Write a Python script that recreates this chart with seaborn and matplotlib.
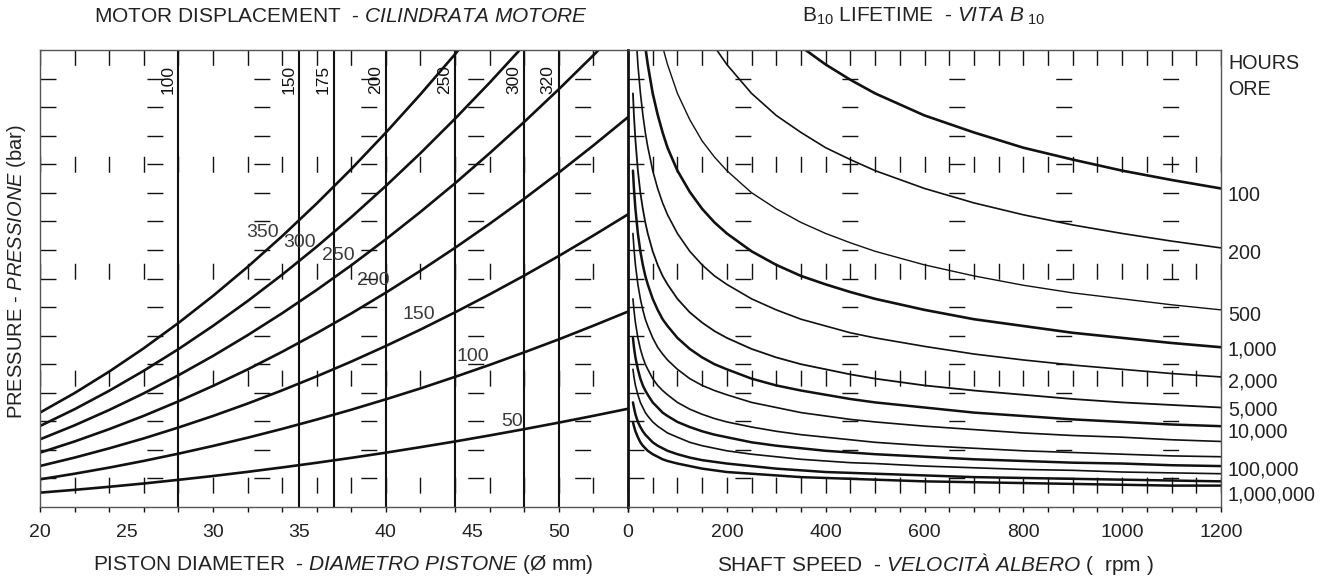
import numpy as np
import matplotlib
matplotlib.use("Agg")
import matplotlib.pyplot as plt
import seaborn as sns
from matplotlib.ticker import MultipleLocator

# ---------------- data ----------------
# Left panel: load vs piston diameter for each pressure level
piston_diameter_mm = [20, 22, 24, 26, 28, 30, 32, 34, 36, 38, 40, 42, 44, 46, 48, 50, 52, 54]
pressure_levels_bar = [50, 100, 150, 200, 250, 300, 350]
load_50bar = [1.57, 1.90, 2.26, 2.65, 3.08, 3.53, 4.02, 4.54, 5.09, 5.67, 6.28, 6.93, 7.60, 8.31, 9.05, 9.82, 10.62, 11.45]
load_100bar = [3.14, 3.80, 4.52, 5.31, 6.16, 7.07, 8.04, 9.08, 10.18, 11.34, 12.57, 13.85, 15.21, 16.62, 18.10, 19.63, 21.24, 22.90]
load_150bar = [4.71, 5.70, 6.79, 7.96, 9.24, 10.60, 12.06, 13.62, 15.27, 17.01, 18.85, 20.78, 22.81, 24.93, 27.14, 29.45, 31.86, 34.35]
load_200bar = [6.28, 7.60, 9.05, 10.62, 12.32, 14.14, 16.08, 18.16, 20.36, 22.68, 25.13, 27.71, 30.41, 33.24, 36.19, 39.27, 42.47, 45.80]
load_250bar = [7.85, 9.50, 11.31, 13.27, 15.39, 17.67, 20.11, 22.70, 25.45, 28.35, 31.42, 34.64, 38.01, 41.55, 45.24, 49.09, 53.09, 57.26]
load_300bar = [9.42, 11.40, 13.57, 15.93, 18.47, 21.21, 24.13, 27.24, 30.54, 34.02, 37.70, 41.56, 45.62, 49.86, 54.29, 58.91, 63.71, 68.71]
load_350bar = [11.00, 13.30, 15.83, 18.58, 21.55, 24.74, 28.15, 31.78, 35.63, 39.69, 43.98, 48.49, 53.22, 58.17, 63.33, 68.72, 74.33, 80.16]

# Motor displacement lines
displacement_cc = [100, 150, 175, 200, 250, 300, 320]
displacement_diameter_mm = [28, 35, 37, 40, 44, 48, 50]

# Right panel: B10 life curves, load vs shaft speed
shaft_speed_rpm = [10, 12, 15, 20, 25, 30, 35, 40, 50, 60, 70, 80, 100, 125, 150, 175,
                   200, 250, 300, 350, 400, 450, 500, 600, 700, 800, 900, 1000, 1100, 1200]
life_hours = [100, 200, 500, 1000, 2000, 5000, 10000, 20000, 50000,
              100000, 200000, 500000, 1000000]
load_100h = [157.2, 148.9, 139.2, 127.7, 119.4, 113.1, 108.0, 103.7, 97.0, 91.8, 87.7, 84.3, 78.8, 73.7, 69.8, 66.6,
             64.0, 59.9, 56.7, 54.1, 52.0, 50.2, 48.6, 46.0, 44.0, 42.2, 40.8, 39.5, 38.4, 37.4]
load_200h = [127.7, 120.9, 113.1, 103.7, 97.0, 91.8, 87.7, 84.3, 78.8, 74.6, 71.2, 68.4, 64.0, 59.9, 56.7, 54.1,
             52.0, 48.6, 46.0, 44.0, 42.2, 40.8, 39.5, 37.4, 35.7, 34.3, 33.1, 32.1, 31.2, 30.4]
load_500h = [97.0, 91.8, 85.9, 78.8, 73.7, 69.7, 66.6, 64.0, 59.8, 56.7, 54.1, 52.0, 48.6, 45.5, 43.0, 41.1,
             39.5, 36.9, 35.0, 33.4, 32.1, 31.0, 30.0, 28.4, 27.1, 26.0, 25.1, 24.4, 23.7, 23.1]
load_1000h = [78.8, 74.6, 69.8, 64.0, 59.9, 56.7, 54.1, 52.0, 48.6, 46.1, 44.0, 42.2, 39.5, 37.0, 35.0, 33.4,
              32.1, 30.0, 28.4, 27.1, 26.1, 25.2, 24.4, 23.1, 22.0, 21.2, 20.4, 19.8, 19.2, 18.7]
load_2000h = [64.1, 60.6, 56.7, 52.0, 48.7, 46.1, 44.0, 42.3, 39.5, 37.4, 35.7, 34.3, 32.1, 30.0, 28.4, 27.1,
              26.1, 24.4, 23.1, 22.0, 21.2, 20.4, 19.8, 18.8, 17.9, 17.2, 16.6, 16.1, 15.6, 15.2]
load_5000h = [48.6, 46.0, 43.1, 39.5, 36.9, 35.0, 33.4, 32.1, 30.0, 28.4, 27.1, 26.1, 24.4, 22.8, 21.6, 20.6,
              19.8, 18.5, 17.5, 16.7, 16.1, 15.5, 15.0, 14.2, 13.6, 13.1, 12.6, 12.2, 11.9, 11.6]
load_10000h = [39.5, 37.4, 35.0, 32.1, 30.0, 28.4, 27.1, 26.1, 24.4, 23.1, 22.0, 21.2, 19.8, 18.5, 17.5, 16.7,
               16.1, 15.0, 14.2, 13.6, 13.1, 12.6, 12.2, 11.6, 11.0, 10.6, 10.2, 9.9, 9.6, 9.4]
load_20000h = [32.1, 30.4, 28.4, 26.1, 24.4, 23.1, 22.0, 21.2, 19.8, 18.7, 17.9, 17.2, 16.1, 15.0, 14.2, 13.6,
               13.1, 12.2, 11.6, 11.0, 10.6, 10.2, 9.9, 9.4, 9.0, 8.6, 8.3, 8.1, 7.8, 7.6]
load_50000h = [24.4, 23.1, 21.6, 19.8, 18.5, 17.5, 16.7, 16.1, 15.0, 14.2, 13.6, 13.1, 12.2, 11.4, 10.8, 10.3,
               9.9, 9.3, 8.8, 8.4, 8.1, 7.8, 7.5, 7.1, 6.8, 6.5, 6.3, 6.1, 5.9, 5.8]
load_100000h = [19.8, 18.7, 17.5, 16.1, 15.0, 14.2, 13.6, 13.1, 12.2, 11.6, 11.0, 10.6, 9.9, 9.3, 8.8, 8.4,
                8.1, 7.5, 7.1, 6.8, 6.5, 6.3, 6.1, 5.8, 5.5, 5.3, 5.1, 5.0, 4.8, 4.7]
load_200000h = [16.1, 15.2, 14.2, 13.1, 12.2, 11.6, 11.0, 10.6, 9.9, 9.4, 9.0, 8.6, 8.1, 7.5, 7.1, 6.8,
                6.5, 6.1, 5.8, 5.5, 5.3, 5.1, 5.0, 4.7, 4.5, 4.3, 4.2, 4.0, 3.9, 3.8]
load_500000h = [12.2, 11.6, 10.8, 9.9, 9.3, 8.8, 8.4, 8.1, 7.5, 7.1, 6.8, 6.5, 6.1, 5.7, 5.4, 5.2,
                5.0, 4.7, 4.4, 4.2, 4.0, 3.9, 3.8, 3.6, 3.4, 3.3, 3.2, 3.1, 3.0, 2.9]
load_1000000h = [9.9, 9.4, 8.8, 8.1, 7.5, 7.1, 6.8, 6.5, 6.1, 5.8, 5.5, 5.3, 5.0, 4.7, 4.4, 4.2,
                 4.0, 3.8, 3.6, 3.4, 3.3, 3.2, 3.1, 2.9, 2.8, 2.7, 2.6, 2.5, 2.4, 2.4]

# Right-hand scale labels
hours_labels = ["HOURS", "ORE", "100", "200", "500", "1,000", "2,000", "5,000",
                "10,000", "100,000", "1,000,000"]

left_ticks = [20, 25, 30, 35, 40, 45, 50]
right_ticks = [0, 200, 400, 600, 800, 1000, 1200]

# ---------------- layout / style ----------------
hours_label_y = [52.3, 49.35, 36.86, 29.92, 22.73, 18.61, 14.84, 11.54, 8.95, 4.47, 1.53]
pressure_label_pos = [(47.3, 9.9), (45.0, 17.55), (41.9, 22.6), (39.26, 26.6),
                      (37.24, 29.45), (34.98, 30.98), (32.84, 32.27)]
life_linewidths = [1.9, 1.2, 1.0, 1.9, 1.2, 1.3, 1.8, 1.2, 1.2, 1.8, 1.2, 1.8, 1.8]
YLIM = (-0.12, 53.71)

sns.set_style("white")
plt.rcParams["font.family"] = ["Liberation Sans", "DejaVu Sans"]
plt.rcParams["mathtext.fontset"] = "custom"
plt.rcParams["mathtext.rm"] = "Liberation Sans"
plt.rcParams["mathtext.it"] = "Liberation Sans:italic"
plt.rcParams["mathtext.bf"] = "Liberation Sans:bold"
plt.rcParams["lines.scale_dashes"] = False

W, H = 1332, 577
fig = plt.figure(figsize=(W / 100, H / 100), dpi=100)
axL = fig.add_axes([40 / W, 70 / H, 588 / W, 457 / H])
axR = fig.add_axes([628 / W, 70 / H, 593 / W, 457 / H])

ink = "#111111"
txt = "#222222"
spine_c = "#555555"
vdash = (67, (11.5, 65.5))
hdash = (0, (11.5, 65.5))
grid_levels = [YLIM[0] + k * (YLIM[1] - YLIM[0]) / 16 for k in range(1, 16)]

# ---------------- left panel ----------------
pressure_curves = [load_50bar, load_100bar, load_150bar, load_200bar,
                   load_250bar, load_300bar, load_350bar]
for vals in pressure_curves:
    sns.lineplot(x=piston_diameter_mm, y=vals, ax=axL, color=ink, linewidth=1.9,
                 sort=False, estimator=None, legend=False)
for d, cc in zip(displacement_diameter_mm, displacement_cc):
    axL.axvline(d, color=ink, linewidth=1.5)
    axL.text(d - 0.18, 0.967, str(cc), transform=axL.get_xaxis_transform(),
             rotation=90, ha="right", va="top", fontsize=12.5, color=ink)
for p, (x, y) in zip(pressure_levels_bar, pressure_label_pos):
    axL.text(x, y, str(p), ha="center", va="center", fontsize=14, color="#3a3a3a")

axL.set_xlim(20, 54)
axL.set_ylim(*YLIM)
axL.set_xticks(left_ticks, labels=[str(t) for t in left_ticks])
axL.xaxis.set_minor_locator(MultipleLocator(2))
axL.xaxis.remove_overlapping_locs = False
axL.set_yticks([])
axL.set_yticks(grid_levels, minor=True)

# ---------------- right panel ----------------
life_curves = [load_100h, load_200h, load_500h, load_1000h, load_2000h, load_5000h,
               load_10000h, load_20000h, load_50000h, load_100000h, load_200000h,
               load_500000h, load_1000000h]
for vals, lw in zip(life_curves, life_linewidths):
    sns.lineplot(x=shaft_speed_rpm, y=vals, ax=axR, color=ink, linewidth=lw,
                 sort=False, estimator=None, legend=False)

axR.set_xlim(0, 1200)
axR.set_ylim(*YLIM)
axR.set_xticks(right_ticks, labels=[str(t) for t in right_ticks])
axR.xaxis.set_minor_locator(MultipleLocator(50))
axR.xaxis.remove_overlapping_locs = False
axR.yaxis.tick_right()
axR.set_yticks(hours_label_y, labels=hours_labels)
axR.set_yticks(grid_levels, minor=True)

for ax in (axL, axR):
    ax.set_xlabel("")
    ax.set_ylabel("")
    ax.grid(False)
    ax.grid(True, which="minor", axis="x", color=ink, linewidth=1.0, linestyle=vdash)
    ax.grid(True, which="minor", axis="y", color=ink, linewidth=1.0, linestyle=hdash)
    ax.tick_params(axis="x", which="major", length=0, pad=12, labelsize=14,
                   labelcolor=txt)
    ax.tick_params(axis="x", which="minor", length=3.6, width=1.0, color=ink,
                   direction="out", bottom=True)
    ax.tick_params(axis="y", which="minor", length=0)
    for s in ax.spines.values():
        s.set_color(spine_c)
        s.set_linewidth(1.0)
    ax.set_axisbelow(True)

axL.tick_params(axis="y", which="both", length=0, labelleft=False)
axL.spines["right"].set_visible(False)
axR.spines["left"].set_color(ink)
axR.spines["left"].set_linewidth(2.0)
axR.tick_params(axis="y", which="major", length=0, pad=5, labelsize=14.25,
                labelright=True, labelleft=False, right=False, left=False,
                labelcolor=txt)

# ---------------- titles & axis labels ----------------
fig.text(341 / W, 1 - 16 / H, r"MOTOR DISPLACEMENT  - $\mathit{CILINDRATA\ MOTORE}$",
         ha="center", va="center", fontsize=15, color=txt)
fig.text(923 / W, 1 - 16 / H, r"B$_{10}$ LIFETIME  - $\mathit{VITA\ B}_{\ \mathit{10}}$",
         ha="center", va="center", fontsize=15, color=txt)
fig.text(343 / W, 1 - 564 / H, r"PISTON DIAMETER  - $\mathit{DIAMETRO\ PISTONE}$ (Ø mm)",
         ha="center", va="center", fontsize=15, color=txt)
fig.text(935 / W, 1 - 564 / H, r"SHAFT SPEED  - $\mathit{VELOCITÀ\ ALBERO}$ (  rpm )",
         ha="center", va="center", fontsize=15, color=txt)
fig.text(17 / W, 1 - 272 / H, r"PRESSURE - $\mathit{PRESSIONE}$ (bar)",
         ha="center", va="center", rotation=90, fontsize=14.5, color=txt)

fig.savefig("out.png", dpi=100, facecolor="white")
